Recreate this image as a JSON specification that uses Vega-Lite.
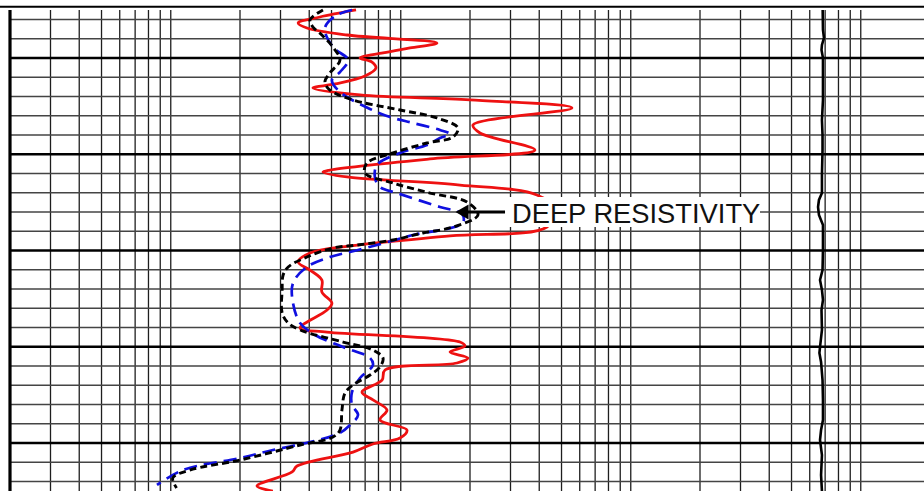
{
  "$schema": "https://vega.github.io/schema/vega-lite/v6.json",
  "width": 924,
  "height": 491,
  "autosize": {"type": "none"},
  "padding": 0,
  "background": "white",
  "config": {"view": {"stroke": null}},
  "datasets": {
    "vgrid": [
      {"r": 0.3}, {"r": 0.4}, {"r": 0.5}, {"r": 0.6}, {"r": 0.7}, {"r": 0.8}, {"r": 0.9}, {"r": 1},
      {"r": 2}, {"r": 3}, {"r": 4}, {"r": 5}, {"r": 6}, {"r": 7}, {"r": 8}, {"r": 9}, {"r": 10},
      {"r": 20}, {"r": 30}, {"r": 40}, {"r": 50}, {"r": 60}, {"r": 70}, {"r": 80}, {"r": 90}, {"r": 100},
      {"r": 200}, {"r": 300}, {"r": 400}, {"r": 500}, {"r": 600}, {"r": 700}, {"r": 800}, {"r": 900}, {"r": 1000}
    ],
    "hminor": [
      {"d": 96}, {"d": 98}, {"d": 102}, {"d": 104}, {"d": 106}, {"d": 108},
      {"d": 112}, {"d": 114}, {"d": 116}, {"d": 118}, {"d": 122}, {"d": 124}, {"d": 126}, {"d": 128},
      {"d": 132}, {"d": 134}, {"d": 136}, {"d": 138}, {"d": 142}, {"d": 144}
    ],
    "hmajor": [{"d": 100}, {"d": 110}, {"d": 120}, {"d": 130}, {"d": 140}],
    "red": [
      {"depth": 95.01, "res": 6.39}, {"depth": 95.74, "res": 4.45}, {"depth": 96.36, "res": 3.58},
      {"depth": 96.88, "res": 3.91}, {"depth": 97.61, "res": 5.84}, {"depth": 98.44, "res": 14.37},
      {"depth": 98.96, "res": 10.97}, {"depth": 99.48, "res": 8.37}, {"depth": 100.0, "res": 6.65},
      {"depth": 100.42, "res": 7.5}, {"depth": 101.04, "res": 7.8}, {"depth": 101.87, "res": 6.99},
      {"depth": 102.7, "res": 5.18}, {"depth": 103.12, "res": 4.15}, {"depth": 103.84, "res": 6.65},
      {"depth": 104.36, "res": 20.0}, {"depth": 105.19, "res": 55.5}, {"depth": 106.96, "res": 20.6},
      {"depth": 107.79, "res": 22.1}, {"depth": 109.56, "res": 38.3}, {"depth": 110.49, "res": 13.4},
      {"depth": 111.64, "res": 4.92}, {"depth": 111.84, "res": 4.59}, {"depth": 112.36, "res": 5.84},
      {"depth": 113.2, "res": 18.09}, {"depth": 114.23, "res": 39.1}, {"depth": 115.79, "res": 47.3},
      {"depth": 117.56, "res": 43.2}, {"depth": 118.49, "res": 16.37}, {"depth": 119.53, "res": 6.02},
      {"depth": 120.26, "res": 4.03}, {"depth": 121.2, "res": 3.58}, {"depth": 122.03, "res": 4.03},
      {"depth": 123.07, "res": 4.54}, {"depth": 124.31, "res": 4.54}, {"depth": 125.46, "res": 5.02},
      {"depth": 126.18, "res": 4.78}, {"depth": 128.05, "res": 3.65}, {"depth": 128.47, "res": 4.78},
      {"depth": 129.51, "res": 18.09}, {"depth": 129.92, "res": 19.0}, {"depth": 130.55, "res": 16.37},
      {"depth": 131.17, "res": 19.6}, {"depth": 131.69, "res": 17.56}, {"depth": 132.42, "res": 8.54},
      {"depth": 133.46, "res": 8.29}, {"depth": 134.7, "res": 6.78}, {"depth": 135.53, "res": 7.57},
      {"depth": 136.57, "res": 8.71}, {"depth": 137.61, "res": 8.12}, {"depth": 138.65, "res": 10.64},
      {"depth": 139.48, "res": 9.92}, {"depth": 140.1, "res": 7.57}, {"depth": 140.94, "res": 6.2},
      {"depth": 142.39, "res": 3.54}, {"depth": 143.01, "res": 3.37}, {"depth": 144.47, "res": 2.37},
      {"depth": 144.99, "res": 2.78}
    ],
    "blue": [
      {"depth": 95.01, "res": 6.14}, {"depth": 95.53, "res": 5.28}, {"depth": 96.88, "res": 4.68},
      {"depth": 98.86, "res": 5.07}, {"depth": 100.21, "res": 5.9}, {"depth": 101.46, "res": 5.44},
      {"depth": 102.29, "res": 5.02}, {"depth": 103.53, "res": 5.44}, {"depth": 105.19, "res": 7.2},
      {"depth": 106.13, "res": 8.98}, {"depth": 106.75, "res": 11.3}, {"depth": 107.48, "res": 14.81},
      {"depth": 107.9, "res": 16.37}, {"depth": 108.31, "res": 14.81}, {"depth": 109.04, "res": 13.0},
      {"depth": 109.87, "res": 9.92}, {"depth": 111.12, "res": 7.88}, {"depth": 112.47, "res": 7.73},
      {"depth": 113.4, "res": 8.12}, {"depth": 114.03, "res": 9.63}, {"depth": 115.48, "res": 14.81},
      {"depth": 116.21, "res": 18.46}, {"depth": 117.14, "res": 18.6}, {"depth": 118.39, "res": 11.3},
      {"depth": 118.91, "res": 9.44}, {"depth": 119.95, "res": 6.52}, {"depth": 120.68, "res": 4.92},
      {"depth": 121.71, "res": 3.91}, {"depth": 123.38, "res": 3.4}, {"depth": 125.46, "res": 3.4},
      {"depth": 127.53, "res": 3.65}, {"depth": 128.78, "res": 4.24}, {"depth": 130.03, "res": 5.61},
      {"depth": 131.17, "res": 7.35}, {"depth": 131.9, "res": 7.57}, {"depth": 133.25, "res": 6.65},
      {"depth": 134.7, "res": 6.14}, {"depth": 136.05, "res": 6.14}, {"depth": 137.09, "res": 6.52},
      {"depth": 138.13, "res": 6.02}, {"depth": 138.96, "res": 5.44}, {"depth": 139.9, "res": 4.03},
      {"depth": 140.73, "res": 2.78}, {"depth": 141.56, "res": 2.0}, {"depth": 142.81, "res": 1.13},
      {"depth": 144.36, "res": 0.871}
    ],
    "deep": [
      {"depth": 95.01, "res": 4.59}, {"depth": 96.05, "res": 4.03}, {"depth": 96.78, "res": 4.15},
      {"depth": 97.61, "res": 4.54}, {"depth": 98.86, "res": 5.07}, {"depth": 100.21, "res": 5.44},
      {"depth": 101.56, "res": 4.92}, {"depth": 102.49, "res": 4.68}, {"depth": 103.33, "res": 4.92},
      {"depth": 104.36, "res": 6.2}, {"depth": 105.4, "res": 9.92}, {"depth": 106.23, "res": 14.37},
      {"depth": 107.27, "res": 17.73}, {"depth": 108.21, "res": 16.87}, {"depth": 108.83, "res": 13.0},
      {"depth": 109.87, "res": 9.25}, {"depth": 110.91, "res": 7.13}, {"depth": 111.95, "res": 6.99},
      {"depth": 112.99, "res": 9.25}, {"depth": 114.03, "res": 13.4}, {"depth": 114.96, "res": 19.4},
      {"depth": 116.31, "res": 21.66}, {"depth": 117.56, "res": 16.87}, {"depth": 118.18, "res": 12.49},
      {"depth": 118.91, "res": 9.25}, {"depth": 119.43, "res": 6.45}, {"depth": 119.74, "res": 5.07},
      {"depth": 120.68, "res": 3.91}, {"depth": 121.71, "res": 3.24}, {"depth": 122.55, "res": 3.08},
      {"depth": 124.1, "res": 3.05}, {"depth": 126.49, "res": 3.05}, {"depth": 127.53, "res": 3.24},
      {"depth": 128.26, "res": 3.65}, {"depth": 129.51, "res": 5.61}, {"depth": 130.34, "res": 7.57},
      {"depth": 131.17, "res": 8.37}, {"depth": 132.1, "res": 8.12}, {"depth": 132.94, "res": 7.35},
      {"depth": 133.97, "res": 6.2}, {"depth": 134.81, "res": 5.72}, {"depth": 136.57, "res": 5.55},
      {"depth": 138.65, "res": 5.44}, {"depth": 139.38, "res": 5.07}, {"depth": 140.21, "res": 3.65},
      {"depth": 141.77, "res": 2.0}, {"depth": 142.81, "res": 1.21}, {"depth": 143.64, "res": 1.02},
      {"depth": 144.68, "res": 1.06}
    ],
    "right": [
      {"depth": 95.01, "res": 683}, {"depth": 97.09, "res": 685}, {"depth": 97.92, "res": 692},
      {"depth": 98.65, "res": 678}, {"depth": 99.17, "res": 675}, {"depth": 100.0, "res": 685},
      {"depth": 102.29, "res": 685}, {"depth": 104.36, "res": 685}, {"depth": 106.44, "res": 678},
      {"depth": 108.0, "res": 682}, {"depth": 109.56, "res": 682}, {"depth": 112.16, "res": 678},
      {"depth": 114.03, "res": 678}, {"depth": 114.75, "res": 658}, {"depth": 115.48, "res": 652},
      {"depth": 116.31, "res": 658}, {"depth": 117.35, "res": 685}, {"depth": 119.95, "res": 685},
      {"depth": 122.03, "res": 682}, {"depth": 123.07, "res": 665}, {"depth": 124.1, "res": 678},
      {"depth": 125.14, "res": 685}, {"depth": 126.18, "res": 675}, {"depth": 128.26, "res": 678},
      {"depth": 130.03, "res": 665}, {"depth": 130.65, "res": 661}, {"depth": 131.58, "res": 672},
      {"depth": 133.46, "res": 682}, {"depth": 135.53, "res": 685}, {"depth": 137.61, "res": 685},
      {"depth": 138.65, "res": 672}, {"depth": 139.69, "res": 665}, {"depth": 141.25, "res": 678},
      {"depth": 143.33, "res": 672}, {"depth": 144.99, "res": 678}
    ]
  },
  "layer": [
    {
      "data": {"name": "vgrid"},
      "mark": {"type": "rule", "color": "#1e1e1e", "strokeWidth": 1.3},
      "encoding": {
        "x": {"field": "r", "type": "quantitative", "scale": {"type": "log", "domain": [0.18095, 1883.4], "nice": false}, "axis": null},
        "y": {"datum": 95.013, "type": "quantitative", "scale": {"domain": [93.974, 144.987], "reverse": true, "nice": false, "zero": false}, "axis": null},
        "y2": {"datum": 144.987}
      }
    },
    {
      "data": {"name": "hminor"},
      "mark": {"type": "rule", "color": "#444444", "strokeWidth": 1.5},
      "encoding": {
        "y": {"field": "d", "type": "quantitative", "scale": {"domain": [93.974, 144.987], "reverse": true, "nice": false, "zero": false}, "axis": null},
        "x": {"datum": 0.2, "type": "quantitative", "scale": {"type": "log", "domain": [0.18095, 1883.4], "nice": false}, "axis": null},
        "x2": {"datum": 1883.4}
      }
    },
    {
      "data": {"name": "hmajor"},
      "mark": {"type": "rule", "color": "#000000", "strokeWidth": 2.6},
      "encoding": {
        "y": {"field": "d", "type": "quantitative", "scale": {"domain": [93.974, 144.987], "reverse": true, "nice": false, "zero": false}, "axis": null},
        "x": {"datum": 0.2, "type": "quantitative", "scale": {"type": "log", "domain": [0.18095, 1883.4], "nice": false}, "axis": null},
        "x2": {"datum": 1883.4}
      }
    },
    {
      "data": {"values": [{}]},
      "mark": {"type": "rule", "color": "#000000", "strokeWidth": 3.2},
      "encoding": {
        "x": {"datum": 0.2, "type": "quantitative", "scale": {"type": "log", "domain": [0.18095, 1883.4], "nice": false}, "axis": null},
        "y": {"datum": 95.013, "type": "quantitative", "scale": {"domain": [93.974, 144.987], "reverse": true, "nice": false, "zero": false}, "axis": null},
        "y2": {"datum": 144.987}
      }
    },
    {
      "data": {"values": [{}]},
      "mark": {"type": "rule", "color": "#000000", "strokeWidth": 2},
      "encoding": {
        "y": {"datum": 94.67, "type": "quantitative", "scale": {"domain": [93.974, 144.987], "reverse": true, "nice": false, "zero": false}, "axis": null}
      }
    },
    {
      "data": {"name": "red"},
      "mark": {"type": "line", "color": "#ee1111", "strokeWidth": 2.8, "interpolate": "catmull-rom"},
      "encoding": {
        "x": {"field": "res", "type": "quantitative", "scale": {"type": "log", "domain": [0.18095, 1883.4], "nice": false}, "axis": null},
        "y": {"field": "depth", "type": "quantitative", "scale": {"domain": [93.974, 144.987], "reverse": true, "nice": false, "zero": false}, "axis": null},
        "order": {"field": "depth", "type": "quantitative"}
      }
    },
    {
      "data": {"name": "blue"},
      "mark": {"type": "line", "color": "#1010e0", "strokeWidth": 2.7, "strokeDash": [13, 7], "interpolate": "catmull-rom"},
      "encoding": {
        "x": {"field": "res", "type": "quantitative", "scale": {"type": "log", "domain": [0.18095, 1883.4], "nice": false}, "axis": null},
        "y": {"field": "depth", "type": "quantitative", "scale": {"domain": [93.974, 144.987], "reverse": true, "nice": false, "zero": false}, "axis": null},
        "order": {"field": "depth", "type": "quantitative"}
      }
    },
    {
      "data": {"name": "deep"},
      "mark": {"type": "line", "color": "#000000", "strokeWidth": 2.9, "strokeDash": [7, 4], "interpolate": "catmull-rom"},
      "encoding": {
        "x": {"field": "res", "type": "quantitative", "scale": {"type": "log", "domain": [0.18095, 1883.4], "nice": false}, "axis": null},
        "y": {"field": "depth", "type": "quantitative", "scale": {"domain": [93.974, 144.987], "reverse": true, "nice": false, "zero": false}, "axis": null},
        "order": {"field": "depth", "type": "quantitative"}
      }
    },
    {
      "data": {"name": "right"},
      "mark": {"type": "line", "color": "#000000", "strokeWidth": 2.6},
      "encoding": {
        "x": {"field": "res", "type": "quantitative", "scale": {"type": "log", "domain": [0.18095, 1883.4], "nice": false}, "axis": null},
        "y": {"field": "depth", "type": "quantitative", "scale": {"domain": [93.974, 144.987], "reverse": true, "nice": false, "zero": false}, "axis": null},
        "order": {"field": "depth", "type": "quantitative"}
      }
    },
    {
      "data": {"values": [{}]},
      "mark": {"type": "rect", "color": "#ffffff"},
      "encoding": {
        "x": {"datum": 27.55, "type": "quantitative", "scale": {"type": "log", "domain": [0.18095, 1883.4], "nice": false}, "axis": null},
        "x2": {"datum": 364.7},
        "y": {"datum": 114.44, "type": "quantitative", "scale": {"domain": [93.974, 144.987], "reverse": true, "nice": false, "zero": false}, "axis": null},
        "y2": {"datum": 117.56}
      }
    },
    {
      "data": {"values": [{}]},
      "mark": {"type": "rule", "color": "#000000", "strokeWidth": 3},
      "encoding": {
        "x": {"datum": 19.2, "type": "quantitative", "scale": {"type": "log", "domain": [0.18095, 1883.4], "nice": false}, "axis": null},
        "x2": {"datum": 28.4},
        "y": {"datum": 116.0, "type": "quantitative", "scale": {"domain": [93.974, 144.987], "reverse": true, "nice": false, "zero": false}, "axis": null}
      }
    },
    {
      "data": {"values": [{}]},
      "mark": {"type": "point", "shape": "triangle-left", "filled": true, "color": "#000000", "size": 230, "opacity": 1},
      "encoding": {
        "x": {"datum": 18.46, "type": "quantitative", "scale": {"type": "log", "domain": [0.18095, 1883.4], "nice": false}, "axis": null},
        "y": {"datum": 116.0, "type": "quantitative", "scale": {"domain": [93.974, 144.987], "reverse": true, "nice": false, "zero": false}, "axis": null}
      }
    },
    {
      "data": {"values": [{}]},
      "mark": {"type": "text", "text": "DEEP RESISTIVITY", "font": "Liberation Sans", "fontSize": 27.3, "align": "left", "baseline": "alphabetic", "color": "#111111"},
      "encoding": {
        "x": {"datum": 30.45, "type": "quantitative", "scale": {"type": "log", "domain": [0.18095, 1883.4], "nice": false}, "axis": null},
        "y": {"datum": 117.1, "type": "quantitative", "scale": {"domain": [93.974, 144.987], "reverse": true, "nice": false, "zero": false}, "axis": null}
      }
    }
  ]
}
